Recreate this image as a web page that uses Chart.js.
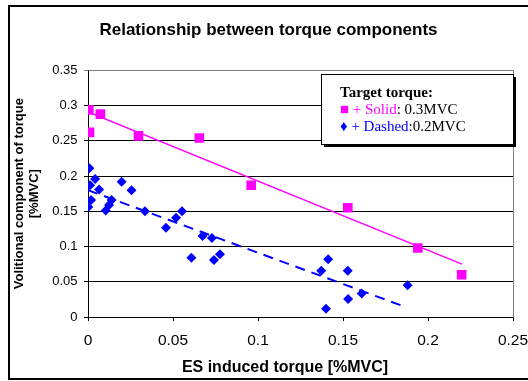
<!DOCTYPE html>
<html>
<head>
<meta charset="utf-8">
<script src="https://cdn.jsdelivr.net/npm/chart.js@4"></script>
<style>
  body { margin: 0; background: #fff; }
  #wrap { width: 528px; height: 381px; }
</style>
</head>
<body>
<div id="wrap"><canvas id="torqueChart" width="528" height="381"></canvas></div>
<script>
// data
const solidX = [0.0005, 0.0073, 0.0009, 0.0297, 0.0655, 0.096, 0.1528, 0.194, 0.2198];
const solidY = [0.294, 0.288, 0.262, 0.257, 0.254, 0.187, 0.155, 0.098, 0.060];

const dashedX = [0.0008, 0.0042, 0.0012, 0.0065, 0.0198, 0.0256, 0.0018, 0.0002, 0.0139, 0.0124,
                 0.0104, 0.0335, 0.0459, 0.0518, 0.0553, 0.0608, 0.0674, 0.0729, 0.0741, 0.0776,
                 0.1372, 0.1413, 0.1528, 0.188, 0.161, 0.153, 0.140];
const dashedY = [0.211, 0.196, 0.187, 0.181, 0.192, 0.180, 0.166, 0.156, 0.166, 0.159,
                 0.151, 0.150, 0.1265, 0.141, 0.150, 0.084, 0.115, 0.112, 0.081, 0.089,
                 0.0656, 0.0821, 0.0656, 0.0449, 0.0335, 0.0255, 0.0118];

// trend line end points
const solidTrendX = [0, 0.22];
const solidTrendY = [0.291, 0.075];
const dashedTrendX = [0, 0.187];
const dashedTrendY = [0.180, 0.014];

const xTicks = [0, 0.05, 0.1, 0.15, 0.2, 0.25];
const yTicks = [0, 0.05, 0.1, 0.15, 0.2, 0.25, 0.3, 0.35];

function pts(xs, ys) {
    return xs.map((x, i) => ({ x: x, y: ys[i] }));
}

const fmt = v => String(+Number(v).toFixed(2));
const sans = 'Arial, "Liberation Sans", sans-serif';
const serif = '"Liberation Serif", "Times New Roman", serif';

// outer frame, plot frame, x axis title and the legend box
const decorPlugin = {
    id: 'decor',
    beforeDraw(chart) {
        const ctx = chart.ctx;
        ctx.save();
        ctx.fillStyle = '#fff';
        ctx.fillRect(0, 0, chart.width, chart.height);
        ctx.restore();
    },
    afterDatasetsDraw(chart) {
        const ctx = chart.ctx;
        const a = chart.chartArea;
        ctx.save();
        // plot area top/right edge
        ctx.strokeStyle = '#808080';
        ctx.lineWidth = 1;
        ctx.beginPath();
        ctx.moveTo(Math.round(a.left) + 0.5, Math.round(a.top) + 0.5);
        ctx.lineTo(Math.round(a.right) + 0.5, Math.round(a.top) + 0.5);
        ctx.lineTo(Math.round(a.right) + 0.5, Math.round(a.bottom) + 0.5);
        ctx.stroke();

        // outer chart frame
        ctx.strokeStyle = '#000';
        ctx.lineWidth = 2;
        ctx.strokeRect(9, 6, 560, 373);

        // x axis title (sits left of the plot centre in the original)
        ctx.font = 'bold 16px ' + sans;
        ctx.fillStyle = '#000';
        ctx.textAlign = 'center';
        ctx.textBaseline = 'middle';
        ctx.fillText('ES induced torque [%MVC]', 285, 368);

        // legend box with shadow
        const lx = 321, ly = 74, lw = 192, lh = 70;
        ctx.fillStyle = '#000';
        ctx.fillRect(lx + 3, ly + 3, lw, lh);
        ctx.fillStyle = '#fff';
        ctx.fillRect(lx, ly, lw, lh);
        ctx.strokeStyle = '#000';
        ctx.lineWidth = 1;
        ctx.strokeRect(lx + 0.5, ly + 0.5, lw, lh);

        ctx.textBaseline = 'alphabetic';
        ctx.textAlign = 'left';
        ctx.font = 'bold 15px ' + serif;
        ctx.fillStyle = '#000';
        ctx.fillText('Target torque:', 340, 97);

        ctx.font = '15px ' + serif;
        let part = '\u25A0 + Solid';
        ctx.fillStyle = '#FF00FF';
        ctx.fillText(part, 340, 114);
        let w = ctx.measureText(part).width;
        ctx.fillStyle = '#000';
        ctx.fillText(': 0.3MVC', 340 + w, 114);

        part = '\u2666 + Dashed';
        ctx.fillStyle = '#0000FF';
        ctx.fillText(part, 340, 131);
        w = ctx.measureText(part).width;
        ctx.fillStyle = '#000';
        ctx.fillText(':0.2MVC', 340 + w, 131);
        ctx.restore();
    }
};

const ctx = document.getElementById('torqueChart').getContext('2d');
const torqueChart = new Chart(ctx, {
    type: 'scatter',
    data: {
        datasets: [
            {
                label: 'Solid trend',
                data: pts(solidTrendX, solidTrendY),
                showLine: true,
                borderColor: '#FF00FF',
                borderWidth: 1.5,
                pointRadius: 0,
                pointHoverRadius: 0
            },
            {
                label: 'Dashed trend',
                data: pts(dashedTrendX, dashedTrendY),
                showLine: true,
                borderColor: '#0000FF',
                borderWidth: 2,
                borderDash: [10, 7],
                pointRadius: 0,
                pointHoverRadius: 0
            },
            {
                label: '0.3MVC',
                data: pts(solidX, solidY),
                pointStyle: 'rect',
                pointRadius: 6.8,
                backgroundColor: '#FF00FF',
                borderColor: '#FF00FF',
                borderWidth: 0
            },
            {
                label: '0.2MVC',
                data: pts(dashedX, dashedY),
                pointStyle: 'rectRot',
                pointRadius: 5,
                backgroundColor: '#0000FF',
                borderColor: '#0000FF',
                borderWidth: 0
            }
        ]
    },
    options: {
        responsive: false,
        animation: false,
        layout: { padding: { left: 24, right: 15, top: 0, bottom: 0 } },
        plugins: {
            legend: { display: false },
            tooltip: { enabled: false },
            title: {
                display: true,
                text: 'Relationship between torque components',
                color: '#000',
                font: { family: sans, size: 17, weight: 'bold', lineHeight: 1.2 },
                padding: { top: 20, bottom: 30 }
            }
        },
        scales: {
            x: {
                type: 'linear',
                min: 0,
                max: 0.25,
                afterBuildTicks: s => { s.ticks = xTicks.map(v => ({ value: v })); },
                afterFit: s => {
                    s.height = 64;
                    s.paddingLeft = 0;
                    s.paddingRight = 0;
                },
                ticks: {
                    color: '#000',
                    padding: 10,
                    maxRotation: 0,
                    font: { family: sans, size: 15.5 },
                    callback: fmt
                },
                grid: { drawOnChartArea: false, color: '#000', tickLength: 4 },
                border: { color: '#000', width: 1 },
                title: { display: false }
            },
            y: {
                type: 'linear',
                min: 0,
                max: 0.35,
                afterBuildTicks: s => { s.ticks = yTicks.map(v => ({ value: v })); },
                afterFit: s => { s.width = 64; },
                ticks: {
                    color: '#000',
                    padding: 6.5,
                    font: { family: sans, size: 13 },
                    callback: fmt
                },
                grid: {
                    color: c => (c.tick && c.tick.value >= 0.349 ? '#808080' : '#000'),
                    tickLength: 4
                },
                border: { color: '#000', width: 1 },
                title: {
                    display: true,
                    text: ['Volitional component of torque', '[%MVC]'],
                    color: '#000',
                    font: { family: sans, size: 13, weight: 'bold', lineHeight: 1.15 },
                    padding: { top: -12.5, bottom: 0 }
                }
            }
        }
    },
    plugins: [decorPlugin]
});
</script>
</body>
</html>
